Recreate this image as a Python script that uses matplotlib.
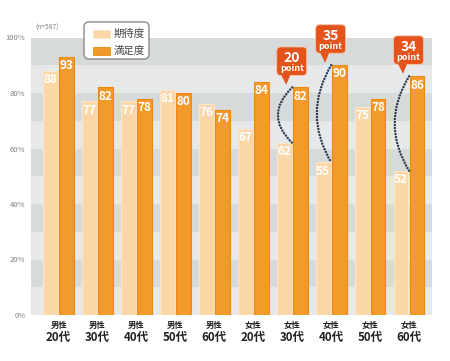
import matplotlib
matplotlib.use("Agg")
import matplotlib.pyplot as plt
from matplotlib.patches import FancyBboxPatch, Polygon, PathPatch, Rectangle
from matplotlib.path import Path
from matplotlib.transforms import IdentityTransform, blended_transform_factory

plt.rcParams['font.family'] = ['Noto Sans CJK JP', 'DejaVu Sans']

genders = ["男性"] * 5 + ["女性"] * 5
ages = ["20代", "30代", "40代", "50代", "60代"] * 2
expectation = [88, 77, 77, 81, 76, 67, 62, 55, 75, 52]
satisfaction = [93, 82, 78, 80, 74, 84, 82, 90, 78, 86]
series_names = ["期待度", "満足度"]
yticks = [0, 20, 40, 60, 80, 100]
ytick_labels = ["0%", "20%", "40%", "60%", "80%", "100%"]
callout_groups = [6, 7, 9]
callout_values = ["20", "35", "34"]
sample_note = "(n=587)"

W, H = 450, 361
fig = plt.figure(figsize=(W / 100, H / 100), dpi=100)
ax = fig.add_axes([31 / W, 1 - 315 / H, (432 - 31) / W, (315 - 37.5) / H])
ax.set_xlim(-0.71, 9.59)
ax.set_ylim(0, 100)
for s in ax.spines.values():
    s.set_visible(False)
ax.set_facecolor("white")

# background bands
for k in range(10):
    col = "#d6dadb" if k % 2 == 1 else "#e6e8ea"
    ax.axhspan(k * 10, (k + 1) * 10, color=col, zorder=0, lw=0)

light = "#fbd7a8"
light_edge = "#fde7cb"
dark = "#f39a2c"
dark_edge = "#ee8914"
x = list(range(len(ages)))
off = 0.205
bw = 0.38
ax.bar([i - off for i in x], expectation, width=bw, color=light, edgecolor=light_edge, lw=0.8, zorder=2)
ax.bar([i + off for i in x], satisfaction, width=bw, color=dark, edgecolor=dark_edge, lw=0.8, zorder=2)

for i in x:
    ax.text(i - off, expectation[i] - 0.8, str(expectation[i]), ha="center", va="top",
            color="white", fontsize=8.5, fontweight="bold", zorder=3)
    ax.text(i + off, satisfaction[i] - 0.8, str(satisfaction[i]), ha="center", va="top",
            color="white", fontsize=8.5, fontweight="bold", zorder=3)

ax.set_yticks(yticks)
ax.set_yticklabels(ytick_labels, fontsize=5.5, color="#808080")
ax.tick_params(axis="y", length=0, pad=4)
ax.set_xticks([])

# x labels
bt = blended_transform_factory(ax.transData, fig.transFigure)
for i in x:
    ax.text(i, 1 - 325.5 / H, genders[i], transform=bt, ha="center", va="center",
            fontsize=6, fontweight="bold", color="#222222")
    ax.text(i, 1 - 338 / H, ages[i], transform=bt, ha="center", va="center",
            fontsize=8.3, fontweight="bold", color="#222222")

fig.text(35 / W, 1 - 28 / H, sample_note, fontsize=4.8, color="#808080", va="center")

# legend
ident = IdentityTransform()
def P(px, py):
    return (px, H - py)
leg = FancyBboxPatch(P(84, 59), 65, 37, boxstyle="round,pad=0,rounding_size=5",
                     transform=ident, facecolor="white", edgecolor="#8a8a8a", lw=1.0, zorder=5)
fig.patches.append(leg)
for j, (c, ec) in enumerate([(light, light_edge), (dark, dark_edge)]):
    y0 = 30 + j * 17
    r = Rectangle(P(93, y0 + 8), 17, 8, transform=ident, facecolor=c, edgecolor=ec, lw=0.6, zorder=6)
    fig.patches.append(r)
    fig.text(114 / W, 1 - (y0 + 4) / H, series_names[j], fontsize=7.5, color="#444444",
             va="center", ha="left", zorder=7)

fig.canvas.draw()
td = ax.transData
callout_col = "#e4531b"
for g, label in zip(callout_groups, callout_values):
    # dotted arc between the two bar tops
    p0 = (g, satisfaction[g])
    p2 = (g, expectation[g])
    ctrl = (g - 0.74, (satisfaction[g] + expectation[g]) / 2)
    path = Path([p0, ctrl, p2], [Path.MOVETO, Path.CURVE3, Path.CURVE3])
    pp = PathPatch(path, facecolor="none", edgecolor="#2b3a4e", lw=1.8,
                   linestyle=(0, (0.01, 1.2)), capstyle="round", zorder=4)
    ax.add_patch(pp)
    # callout box
    ax_px, ay_px = td.transform((g, satisfaction[g]))
    left = ax_px - 15.5
    bottom = ay_px + 12
    box = FancyBboxPatch((left, bottom), 30, 28.5, boxstyle="round,pad=0,rounding_size=4",
                         transform=ident, facecolor=callout_col, edgecolor="#f6c7a8",
                         lw=0.6, zorder=8, clip_on=False)
    fig.patches.append(box)
    tri = Polygon([(ax_px - 11, bottom + 0.5), (ax_px - 2, bottom + 0.5), (ax_px - 6, ay_px + 2.5)],
                  closed=True, transform=ident, facecolor=callout_col, edgecolor="none", zorder=8)
    fig.patches.append(tri)
    fig.text(left + 15, bottom + 13.5, label, fontsize=10, fontweight="bold",
             color="white", ha="center", va="baseline", zorder=9, transform=ident)
    fig.text(left + 15, bottom + 4, "point", fontsize=6.5, fontweight="bold",
             color="white", ha="center", va="baseline", zorder=9, transform=ident)

fig.savefig("out.png", dpi=100)
